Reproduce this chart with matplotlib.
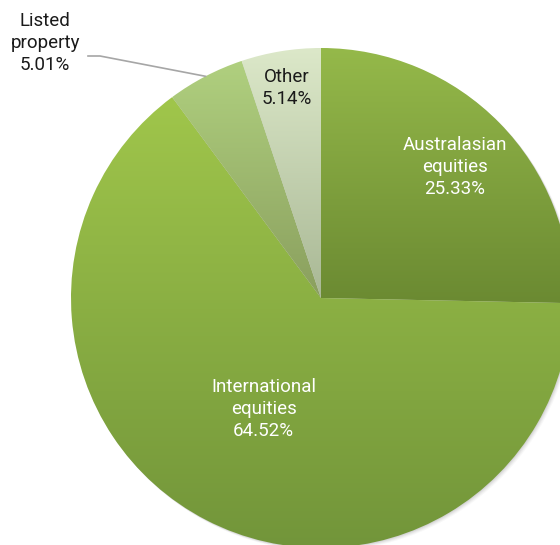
import numpy as np
import matplotlib.pyplot as plt
from matplotlib.colors import LinearSegmentedColormap
from matplotlib.patches import Circle

plt.rcParams['font.family'] = ['Roboto', 'DejaVu Sans']

labels = ['Australasian\nequities', 'International\nequities', 'Listed\nproperty', 'Other']
shares = [25.33, 64.52, 5.01, 5.14]
# gradient colours per slice (top, bottom)
top_cols = ['#95b94a', '#a0c64b', '#b0d07f', '#dce8c9']
bot_cols = ['#6b8a32', '#72953a', '#8a9f5e', '#a9b895']
text_cols = ['white', 'white', '#1a1a1a', '#1a1a1a']
label_r = [0.75, 0.50, None, 0.85]

cx, cy, R = 321, 545 - 298, 250
fs = 13.5
ls = 1.3

fig = plt.figure(figsize=(5.6, 5.45), dpi=100)
ax = fig.add_axes([0, 0, 1, 1])

# soft shadow under the pie
for k, a in zip([4, 3, 2, 1], [0.05, 0.07, 0.09, 0.12]):
    ax.add_patch(Circle((cx + k * 0.8, cy - k * 0.8), R, color='#777777', alpha=a, lw=0, zorder=0))

wedges, _ = ax.pie(shares, startangle=90, counterclock=False, center=(cx, cy), radius=R,
                   wedgeprops=dict(linewidth=0), frame=True)

grad = np.linspace(0, 1, 256).reshape(-1, 1)
for w, c0, c1 in zip(wedges, top_cols, bot_cols):
    w.set_facecolor('none')
    ext = w.get_path().get_extents(w.get_patch_transform())
    cmap = LinearSegmentedColormap.from_list('g', [c0, c1])
    im = ax.imshow(grad, cmap=cmap, aspect='auto', origin='upper',
                   extent=[ext.x0, ext.x1, ext.y0, ext.y1], zorder=1)
    im.set_clip_path(w)

# labels
cum = 0
for i, (lab, s) in enumerate(zip(labels, shares)):
    mid = np.deg2rad(90 - (cum + s / 2) * 3.6)
    cum += s
    txt = '{}\n{:.2f}%'.format(lab, s)
    if label_r[i] is None:
        px, py = cx + R * np.cos(mid), cy + R * np.sin(mid)
        ax.plot([px, 100, 88], [py, 489, 489], color='#a6a6a6', lw=1.2, zorder=3)
        ax.text(45, 502, txt, ha='center', va='center', fontsize=fs, color=text_cols[i],
                linespacing=ls, zorder=4)
    else:
        lr = label_r[i] * R
        ax.text(cx + lr * np.cos(mid), cy + lr * np.sin(mid), txt, ha='center', va='center',
                fontsize=fs, color=text_cols[i], linespacing=ls, zorder=4)

ax.set_xlim(0, 560)
ax.set_ylim(0, 545)
ax.set_aspect('equal')
ax.axis('off')
fig.savefig('out.png', dpi=100)
